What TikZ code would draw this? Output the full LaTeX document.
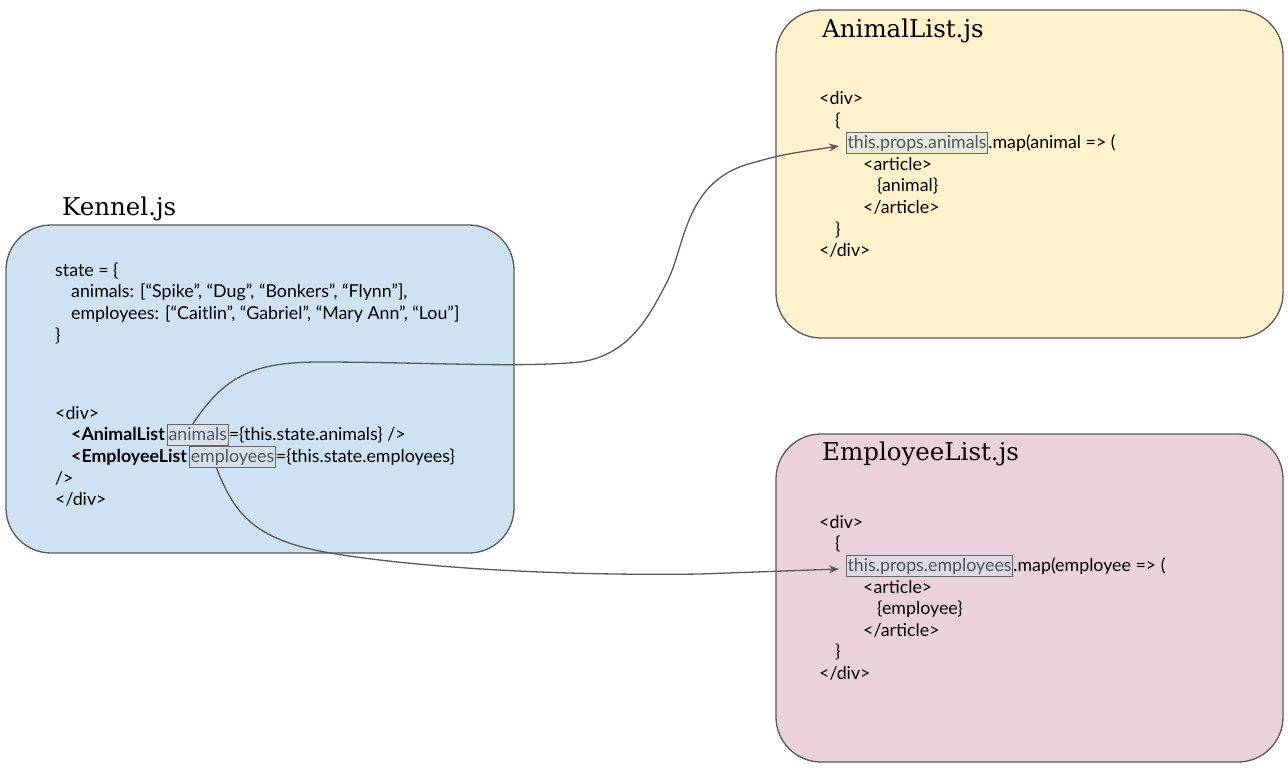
\documentclass[tikz,border=0pt]{standalone}
\usepackage{fontspec}
\setmainfont{Lato}
\newfontfamily\titlefont{DejaVu Serif}
\usetikzlibrary{arrows.meta}
\definecolor{bord}{HTML}{595959}
\definecolor{kblue}{HTML}{CFE2F3}
\definecolor{ayellow}{HTML}{FFF2CC}
\definecolor{epink}{HTML}{EAD1DC}
\definecolor{hlblue}{HTML}{D8E1EA}
\definecolor{hlyellow}{HTML}{E8EADB}
\definecolor{hlpink}{HTML}{DDDBE5}
\definecolor{hlborder}{HTML}{666666}
\definecolor{hltext}{HTML}{4A5660}
\tikzset{
  filebox/.style={draw=bord, line width=1.3pt, rounded corners=45pt},
  code/.style={anchor=base west, inner sep=0pt, font=\fontsize{17.8}{21}\selectfont},
  hl/.style={code, draw=hlborder, line width=1.1pt, inner xsep=1pt, inner ysep=2pt,
    text height=13.5pt, text depth=3.5pt, text=hltext},
  titletext/.style={anchor=base west, inner sep=0pt, font=\titlefont\fontsize{24.5}{28}\selectfont},
  link/.style={draw=bord, line width=1.3pt, -{Stealth[length=10pt,width=8pt]}}
}
\begin{document}
\begin{tikzpicture}[x=1pt,y=-1pt]
\useasboundingbox (0,0) rectangle (1288,771);
% boxes
\draw[filebox, fill=kblue] (6,225) rectangle (514,553);
\draw[filebox, fill=ayellow] (776,10) rectangle (1283,338);
\draw[filebox, fill=epink] (776,434) rectangle (1283,762);
% Kennel
\node[titletext] (kt) at (62,215) {Kennel.js};
\node[code] (k1) at (55,276) {state = \{};
\node[code] (k2) at (71,297) {animals: [“Spike”, “Dug”, “Bonkers”, “Flynn”],};
\node[code] (k3) at (71,319) {employees: [“Caitlin”, “Gabriel”, “Mary Ann”, “Lou”]};
\node[code] (k4) at (55,341) {\}};
\node[code] (k5) at (55,419) {<div>};
\node[code] (k6) at (71,440) {\textbf{<AnimalList}};
\node[hl, fill=hlblue] (animals) at ([xshift=2pt]k6.base east) {animals};
\node[code] (k6b) at (animals.base east) {=\{this.state.animals\} />};
\node[code] (k7) at (71,462) {\textbf{<EmployeeList}};
\node[hl, fill=hlblue] (employees) at ([xshift=2pt]k7.base east) {employees};
\node[code] (k7b) at (employees.base east) {=\{this.state.employees\}};
\node[code] (k8) at (55,484) {/>};
\node[code] (k9) at (55,505) {</div>};
% AnimalList
\node[titletext] (at) at (822,37) {AnimalList.js};
\node[code] (a1) at (819,104) {<div>};
\node[code] (a2) at (835,126) {\{};
\node[hl, fill=hlyellow] (propsA) at (846,148) {this.props.animals};
\node[code] (a3b) at (propsA.base east) {.map(animal => (};
\node[code] (a4) at (863,170) {<article>};
\node[code] (a5) at (877,191) {\{animal\}};
\node[code] (a6) at (863,213) {</article>};
\node[code] (a7) at (835,235) {\}};
\node[code] (a8) at (819,256) {</div>};
% EmployeeList
\node[titletext] (et) at (822,460) {EmployeeList.js};
\node[code] (e1) at (819,528) {<div>};
\node[code] (e2) at (835,549) {\{};
\node[hl, fill=hlpink] (propsE) at (846,571) {this.props.employees};
\node[code] (e3b) at (propsE.base east) {.map(employee => (};
\node[code] (e4) at (863,593) {<article>};
\node[code] (e5) at (877,614) {\{employee\}};
\node[code] (e6) at (863,636) {</article>};
\node[code] (e7) at (835,657) {\}};
\node[code] (e8) at (819,679) {</div>};
% connectors
\draw[link] ([xshift=-5pt]animals.north) .. controls (225,375) and (255,362) .. (320,362)
  .. controls (420,362) and (520,368) .. (580,362)
  .. controls (630,355) and (650,315) .. (668,280)
  .. controls (685,245) and (685,185) .. (745,165)
  .. controls (780,155) .. ([xshift=-7pt,yshift=-3pt]propsA.west);
\draw[link] ([xshift=-16pt]employees.south) .. controls (235,515) and (255,540) .. (330,553)
  .. controls (420,568) and (560,576) .. (700,574)
  -- ([xshift=-7pt,yshift=-3pt]propsE.west);
\end{tikzpicture}
\end{document}
